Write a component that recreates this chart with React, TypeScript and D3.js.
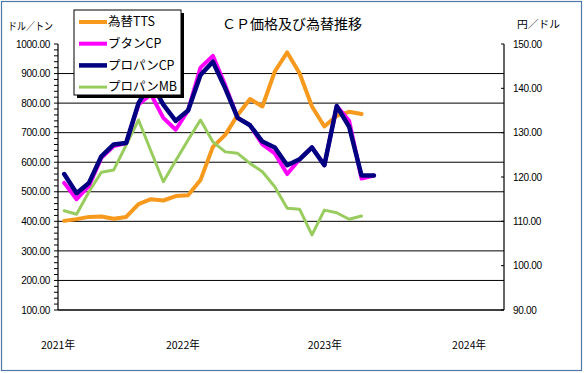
import React from 'react';
import * as d3 from 'd3';

// months of the category axis, Apr 2021 .. Mar 2024
const months = d3.range(36).map(function (i) {
  const m = (3 + i) % 12 + 1;
  const y = 2021 + Math.floor((3 + i) / 12);
  return y + '/' + (m < 10 ? '0' + m : m);
});

const ttsYen = [110.1, 110.5, 111.0, 111.1, 110.6, 111.0, 113.9, 115.0, 114.7, 115.7, 115.9, 119.3,
  126.8, 129.5, 134.0, 137.6, 135.9, 143.8, 148.1, 143.4, 135.9, 131.4, 133.8, 134.7, 134.2];
const butaneCP = [530, 475, 520, 615, 655, 665, 795, 830, 750, 710, 775, 920,
  960, 860, 750, 725, 660, 630, 560, 610, 650, 590, 790, 740, 545, 555];
const propaneCP = [560, 495, 530, 620, 660, 665, 800, 870, 795, 740, 775, 895,
  940, 850, 750, 725, 670, 650, 590, 610, 650, 590, 790, 720, 555, 555];
const propaneMB = [436, 424, 500, 566, 574, 658, 743, 638, 534, 605, 675, 743,
  669, 635, 630, 596, 568, 517, 444, 441, 354, 438, 429, 407, 418];

const leftTicks = [100, 200, 300, 400, 500, 600, 700, 800, 900, 1000];
const rightTicks = [90, 100, 110, 120, 130, 140, 150];
const yearLabels = ['2021年', '2022年', '2023年', '2024年'];
const yearLabelAt = [-0.5, 9.58, 21.03, 32.68]; // in month-index units

const series = [
  { name: '為替TTS', data: ttsYen, color: '#f7991d', width: 4, axis: 'right' },
  { name: 'プロパンMB', data: propaneMB, color: '#99cc5e', width: 3, axis: 'left' },
  { name: 'ブタンCP', data: butaneCP, color: '#ff00ff', width: 4, axis: 'left' },
  { name: 'プロパンCP', data: propaneCP, color: '#000080', width: 4.5, axis: 'left' },
];
const legendOrder = ['為替TTS', 'ブタンCP', 'プロパンCP', 'プロパンMB'];

const W = 584, H = 373;
const left = 58, right = 504, top = 44, bottom = 310;
const numFont = '"Liberation Sans", Arial, sans-serif';
const jpFont = '"Noto Sans CJK JP", sans-serif';

export default function App() {
  const x = d3.scaleBand().domain(months).range([left, right]);
  const step = x.bandwidth();
  const xi = (i: number) => left + step * (i + 0.5);
  const yL = d3.scaleLinear().domain([100, 1000]).range([bottom, top]);
  const yR = d3.scaleLinear().domain([90, 150]).range([bottom, top]);
  const fmt = d3.format('.2f');

  const minor = d3.range(100, 1001, 20);

  const lines = series.map(function (s) {
    const yy = s.axis === 'right' ? yR : yL;
    const gen = d3.line<number>()
      .x((d, i) => (x(months[i]) as number) + step / 2)
      .y(d => yy(d));
    return <path key={s.name} d={gen(s.data) || ''} fill="none" stroke={s.color}
      strokeWidth={s.width} strokeLinejoin="round" strokeLinecap="round" />;
  });

  const lx = 74, ly = 10, lw = 107, lh = 85;

  return (
    <svg width={W} height={H} style={{ position: 'absolute', left: 0, top: 0, background: '#fff' }}>
      <rect x={1.5} y={1.5} width={W - 4} height={H - 4} fill="#fff" stroke="#4e78a8" strokeWidth={1.2} />

      <text x={292} y={25} textAnchor="middle" dominantBaseline="middle" fontFamily={jpFont}
        fontSize={13.5} textLength={140} lengthAdjust="spacingAndGlyphs">ＣＰ価格及び為替推移</text>
      <text x={8} y={27} dominantBaseline="middle" fontFamily={jpFont} fontSize={10.5}
        textLength={45} lengthAdjust="spacingAndGlyphs">ドル／トン</text>
      <text x={517} y={25} dominantBaseline="middle" fontFamily={jpFont} fontSize={10.5}
        textLength={43} lengthAdjust="spacingAndGlyphs">円／ドル</text>

      {leftTicks.filter(t => t > 100 && t < 1000).map(t =>
        <line key={'g' + t} x1={left} x2={right} y1={yL(t)} y2={yL(t)} stroke="#000" strokeWidth={1} />)}

      {minor.map(t =>
        <line key={'m' + t} x1={left - 4} x2={left} y1={yL(t)} y2={yL(t)} stroke="#000" strokeWidth={1} />)}
      {rightTicks.map(t =>
        <line key={'r' + t} x1={right - 3} x2={right} y1={yR(t)} y2={yR(t)} stroke="#000" strokeWidth={1} />)}

      <line x1={left} x2={left} y1={top} y2={bottom} stroke="#000" strokeWidth={1.2} />
      <line x1={right} x2={right} y1={top} y2={bottom} stroke="#000" strokeWidth={1.2} />
      <line x1={left} x2={right} y1={bottom} y2={bottom} stroke="#000" strokeWidth={1.4} />

      {leftTicks.map(t =>
        <text key={'lt' + t} x={50} y={yL(t) + 1} textAnchor="end" dominantBaseline="middle"
          fontFamily={numFont} fontSize={10} letterSpacing={-0.3}>{fmt(t)}</text>)}
      {rightTicks.map(t =>
        <text key={'rt' + t} x={513} y={yR(t) + 1} dominantBaseline="middle"
          fontFamily={numFont} fontSize={10} letterSpacing={-0.3}>{fmt(t)}</text>)}

      {yearLabels.map((t, i) =>
        <text key={t} x={xi(yearLabelAt[i])} y={346} textAnchor="middle" dominantBaseline="middle"
          fontFamily={jpFont} fontSize={11} textLength={34} lengthAdjust="spacingAndGlyphs">{t}</text>)}

      {lines}

      <rect x={lx + 3} y={ly + 3} width={lw} height={lh} fill="#000" />
      <rect x={lx} y={ly} width={lw} height={lh} fill="#fff" stroke="#000" strokeWidth={1} />
      {legendOrder.map(function (name, i) {
        const s = series.find(d => d.name === name)!;
        const cy = ly + 12 + i * 21.7;
        return (
          <g key={name}>
            <line x1={lx + 5} x2={lx + 33} y1={cy} y2={cy} stroke={s.color} strokeWidth={s.width} />
            <text x={lx + 34} y={cy + 1} dominantBaseline="middle" fontFamily={jpFont} fontSize={12.5}>{name}</text>
          </g>
        );
      })}
    </svg>
  );
}
